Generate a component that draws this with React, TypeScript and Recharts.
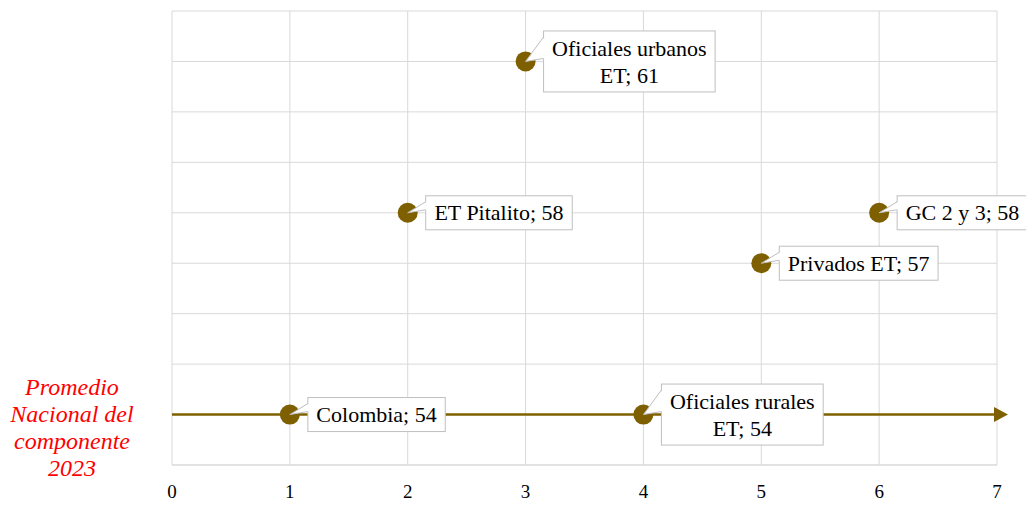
import { CartesianGrid, ReferenceLine, Scatter, ScatterChart, XAxis, YAxis } from "recharts";

const categories = ["Colombia", "ET Pitalito", "Oficiales urbanos ET", "Oficiales rurales ET", "Privados ET", "GC 2 y 3"];
const positions = [1, 2, 3, 4, 5, 6];
const scores = [54, 58, 61, 54, 57, 58];
// labels that break onto two lines, as in the source
const labelLines = [
  ["Colombia; 54"],
  ["ET Pitalito; 58"],
  ["Oficiales urbanos", "ET; 61"],
  ["Oficiales rurales", "ET; 54"],
  ["Privados ET; 57"],
  ["GC 2 y 3; 58"],
];
const xTicks = [0, 1, 2, 3, 4, 5, 6, 7];
const yTicks = [53, 54, 55, 56, 57, 58, 59, 60, 61, 62];
const nationalAvg = 54;
const nationalLabel = ["Promedio", "Nacional del", "componente", "2023"];

const GOLD = "#7f6000";
const GRID = "#d9d9d9";
const SERIF = "'Liberation Serif', 'Times New Roman', serif";
const LABEL_FONT = `22px ${SERIF}`;

const data = categories.map((name, i) => ({ name, x: positions[i], y: scores[i], lines: labelLines[i] }));

let ctx: CanvasRenderingContext2D | null = null;
function textWidth(s: string) {
  if (!ctx) ctx = document.createElement("canvas").getContext("2d");
  if (!ctx) return s.length * 10;
  ctx.font = LABEL_FONT;
  return ctx.measureText(s).width;
}

function CalloutPoint(props: any) {
  const { cx, cy, payload } = props;
  const lines: string[] = payload.lines;
  const w = Math.max(...lines.map(textWidth)) + 17;
  const h = lines.length === 1 ? 34 : 61;
  const bx = cx + 18;
  const by = cy - h / 2;
  const wy1 = by + 6;
  const wy2 = cy - 3;
  return (
    <g>
      <circle cx={cx} cy={cy} r={10} fill={GOLD} />
      <rect x={bx} y={by} width={w} height={h} fill="#fff" stroke="#bfbfbf" strokeWidth={1} />
      <polygon points={`${cx},${cy} ${bx + 1},${wy1} ${bx + 1},${wy2}`} fill="#fff" />
      <polyline points={`${bx},${wy1} ${cx},${cy} ${bx},${wy2}`} fill="none" stroke="#bfbfbf" strokeWidth={1} />
      {lines.map((l, i) => (
        <text
          key={i}
          x={bx + w / 2}
          y={cy + (i - (lines.length - 1) / 2) * 27}
          dy="0.35em"
          textAnchor="middle"
          fontFamily={SERIF}
          fontSize={22}
          fill="#000"
        >
          {l}
        </text>
      ))}
    </g>
  );
}

function AvgArrow(props: any) {
  const { x1, y1, x2, y2 } = props;
  const tipX = x2 + 11;
  const baseX = x2 - 3;
  return (
    <g>
      <line x1={x1} y1={y1} x2={baseX} y2={y2} stroke={GOLD} strokeWidth={2.5} />
      <polygon points={`${baseX},${y2 - 7.5} ${tipX},${y2} ${baseX},${y2 + 7.5}`} fill={GOLD} />
      {nationalLabel.map((l, i) => (
        <text
          key={i}
          x={72}
          y={y1 + 13 + (i - 1.5) * 27}
          dy="0.35em"
          textAnchor="middle"
          fontFamily={SERIF}
          fontStyle="italic"
          fontSize={24}
          fill="#ff0000"
        >
          {l}
        </text>
      ))}
    </g>
  );
}

export default function App() {
  return (
    <div style={{ position: "absolute", left: 0, top: 0 }}>
      <ScatterChart width={1026} height={516} margin={{ top: 11, right: 29, bottom: 21, left: 172 }}>
        <CartesianGrid stroke={GRID} strokeWidth={1} />
        <XAxis
          type="number"
          dataKey="x"
          domain={[0, 7]}
          ticks={xTicks}
          interval={0}
          tickLine={false}
          tickSize={0}
          tickMargin={20}
          axisLine={{ stroke: GRID }}
          tick={{ fill: "#000", fontSize: 19, fontFamily: SERIF }}
          height={30}
        />
        <YAxis type="number" dataKey="y" domain={[53, 62]} ticks={yTicks} hide width={0} />
        <ReferenceLine
          segment={[
            { x: 0, y: nationalAvg },
            { x: 7, y: nationalAvg },
          ]}
          ifOverflow="visible"
          shape={AvgArrow}
        />
        <Scatter data={data} shape={CalloutPoint} isAnimationActive={false} />
      </ScatterChart>
    </div>
  );
}
